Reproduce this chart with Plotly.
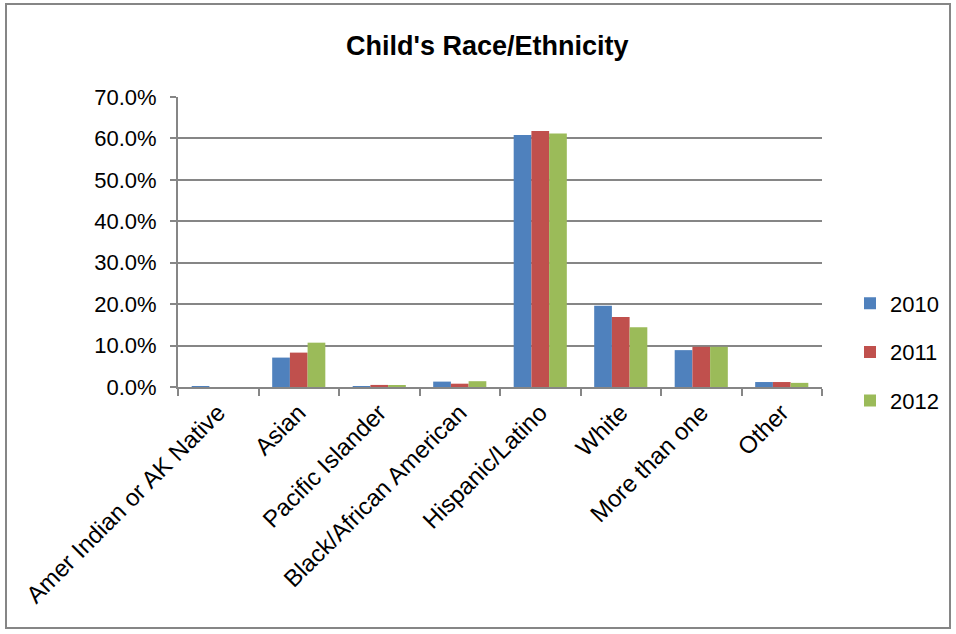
import plotly.graph_objects as go

categories = ["Amer Indian or AK Native", "Asian", "Pacific Islander",
              "Black/African American", "Hispanic/Latino", "White",
              "More than one", "Other"]
years = ["2010", "2011", "2012"]
pct_2010 = [0.2, 7.1, 0.2, 1.3, 60.8, 19.6, 8.9, 1.2]
pct_2011 = [0.0, 8.3, 0.5, 0.8, 61.8, 16.9, 9.7, 1.2]
pct_2012 = [0.0, 10.7, 0.3, 1.4, 61.2, 14.4, 9.7, 1.0]
colors = ["#4F81BD", "#C0504D", "#9BBB59"]
y_ticks = [0, 10, 20, 30, 40, 50, 60, 70]

W, H = 956, 634
L, R, T, B = 178, 822, 97, 387

fig = go.Figure()
for i, (name, vals) in enumerate(zip(years, [pct_2010, pct_2011, pct_2012])):
    fig.add_trace(go.Bar(
        x=categories, y=vals, name=name, legendgroup=name,
        marker=dict(color=colors[i], line=dict(width=0)),
    ))

font = "Liberation Sans"
fig.update_layout(
    width=W, height=H,
    margin=dict(l=L, r=W - R, t=T, b=H - B, pad=0),
    paper_bgcolor="white", plot_bgcolor="white",
    barmode="group", bargap=0.34, bargroupgap=0,
    font=dict(family=font, size=22, color="black"),
    showlegend=True,
    legend=dict(x=(850 - L) / (R - L), xanchor="left",
                y=(387 - 352) / (B - T), yanchor="middle",
                traceorder="grouped", tracegroupgap=17,
                font=dict(size=22), itemwidth=30, bgcolor="rgba(0,0,0,0)"),
    xaxis=dict(
        type="category", tickangle=-45, tickson="boundaries",
        ticks="outside", ticklen=7, tickcolor="#868686", tickwidth=2,
        showline=True, linecolor="#868686", linewidth=2,
        showgrid=False, tickfont=dict(size=24), fixedrange=True,
    ),
    yaxis=dict(
        range=[0, 70], tickvals=y_ticks,
        ticktext=[f"{v:.1f}%" for v in y_ticks],
        ticks="outside", ticklen=6, tickcolor="#868686", tickwidth=2,
        ticklabelstandoff=9,
        showline=True, linecolor="#868686", linewidth=2,
        showgrid=True, gridcolor="#868686", gridwidth=2,
        zeroline=False, tickfont=dict(size=22), fixedrange=True,
    ),
    annotations=[dict(
        text="<b>Child's Race/Ethnicity</b>", xref="paper", yref="paper",
        x=(487 - L) / (R - L), y=(B - 46) / (B - T),
        xanchor="center", yanchor="middle", showarrow=False,
        font=dict(size=27, family=font),
    )],
    shapes=[dict(
        type="rect", xref="paper", yref="paper",
        x0=(6 - L) / (R - L), x1=(950 - L) / (R - L),
        y0=(B - 628) / (B - T), y1=(B - 4) / (B - T),
        line=dict(color="#868686", width=2), fillcolor="rgba(0,0,0,0)",
        layer="below",
    )],
)

fig.write_html("out.html")
